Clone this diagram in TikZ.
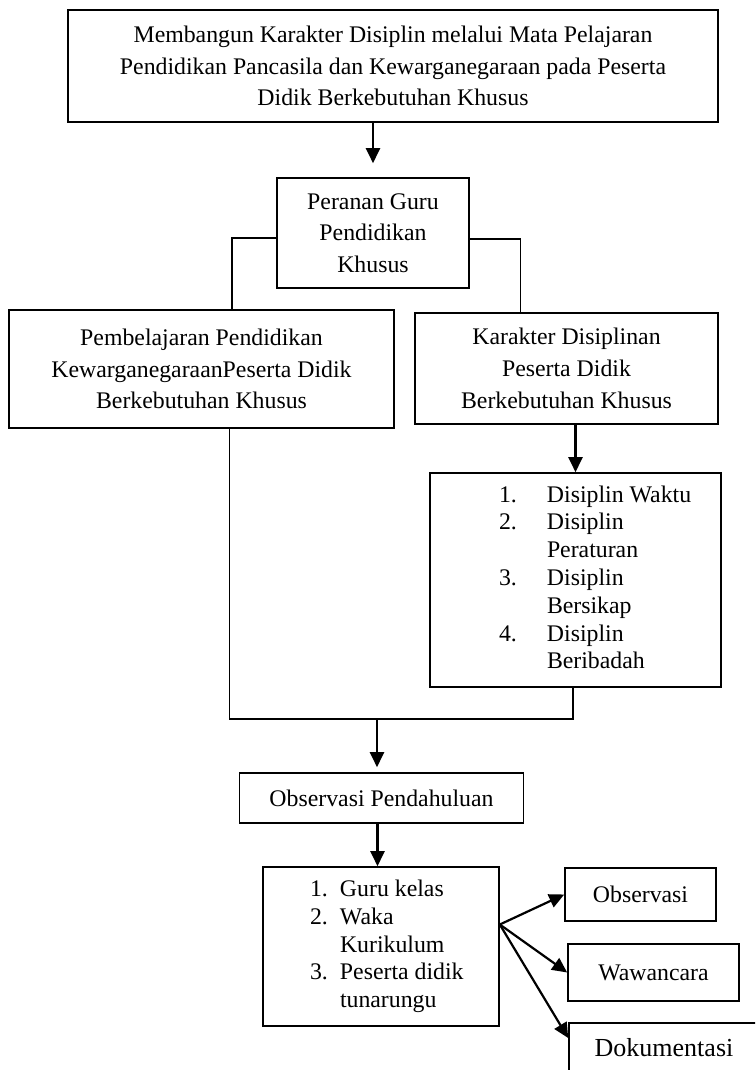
\documentclass[tikz,border=0pt]{standalone}
\usepackage{fontspec}
\setmainfont{Liberation Serif}
\usetikzlibrary{arrows.meta}

\tikzset{
	kotak/.style={draw,line width=1.6pt,align=center,inner sep=0pt,font=\fontsize{23.8}{31.7}\selectfont},
	daftar/.style={draw,line width=1.6pt,inner sep=0pt,font=\fontsize{23.8}{27.8}\selectfont},
	garis/.style={line width=1.2pt},
	panah/.style={line width=2.2pt,-{Triangle[length=15pt,width=14pt]}}
}

\begin{document}
\begin{tikzpicture}
	[x=1pt,y=-1pt]
	\useasboundingbox (0,0) rectangle (755,1070);
	\clip (0,0) rectangle (755,1070);
	\node[kotak,line width=2.7pt,minimum width=650,minimum height=112] (judul) at (393,66)
		{Membangun Karakter Disiplin melalui Mata Pelajaran\\Pendidikan Pancasila dan Kewarganegaraan pada Peserta\\Didik Berkebutuhan Khusus};
	\node[kotak,minimum width=192,minimum height=110] (peran) at (373,233) {Peranan Guru\\Pendidikan\\Khusus};
	\node[kotak,minimum width=385,minimum height=118] (pemb) at (201.5,369)
		{Pembelajaran Pendidikan\\KewarganegaraanPeserta Didik\\Berkebutuhan Khusus};
	\node[kotak,minimum width=303,minimum height=111] (karakter) at (566.5,368.5)
		{Karakter Disiplinan\\Peserta Didik\\Berkebutuhan Khusus};
	\node[daftar,minimum width=291,minimum height=214] (disiplin) at (575.5,580)
		{\begin{tabular}{@{\hspace{69pt}}p{48pt}@{}p{174pt}@{}}
			1. & Disiplin Waktu\\
			2. & Disiplin\\
			   & Peraturan\\
			3. & Disiplin\\
			   & Bersikap\\
			4. & Disiplin\\
			   & Beribadah
		\end{tabular}};
	\node[kotak,minimum width=284,minimum height=50] (pendahuluan) at (381.5,798) {Observasi Pendahuluan};
	\node[daftar,minimum width=236,minimum height=159] (subjek) at (381,946.5)
		{\begin{tabular}{@{\hspace{47pt}}p{30pt}@{}p{159pt}@{}}
			1. & Guru kelas\\
			2. & Waka\\
			   & Kurikulum\\
			3. & Peserta didik\\
			   & tunarungu
		\end{tabular}};
	\node[kotak,minimum width=151,minimum height=53] (observasi) at (640.5,894.5) {Observasi};
	\node[kotak,minimum width=171,minimum height=57] (wawancara) at (653.5,972.5) {Wawancara};
	\node[kotak,minimum width=190,minimum height=50,font=\fontsize{26}{31}\selectfont] (dokumentasi) at (664,1048) {Dokumentasi};
	\coordinate (gabung) at (377,719);

	\draw[panah,shorten >=14pt] (judul.south -| peran.north) -- (peran.north);
	\draw[garis] ([yshift=-5pt]peran.west) -| ([xshift=30.5pt]pemb.north);
	\draw[garis] ([yshift=-6pt]peran.east) -| ([xshift=-46pt]karakter.north);
	\draw[panah] (karakter.south -| disiplin.north) -- (disiplin.north);
	\draw[garis] ([xshift=28pt]pemb.south) |- (gabung) -| ([xshift=-2.5pt]disiplin.south);
	\draw[panah,shorten >=5pt] (gabung) -- (gabung |- pendahuluan.north);
	\draw[panah] ([xshift=-4pt]pendahuluan.south) -- ([xshift=-4pt]pendahuluan.south |- subjek.north);
	\foreach \ke/\geser in {observasi/0pt, wawancara/0pt, dokumentasi/10pt}
	\draw[panah] ([yshift=22pt]subjek.east) -- ([yshift=\geser]\ke.west);
\end{tikzpicture}
\end{document}
